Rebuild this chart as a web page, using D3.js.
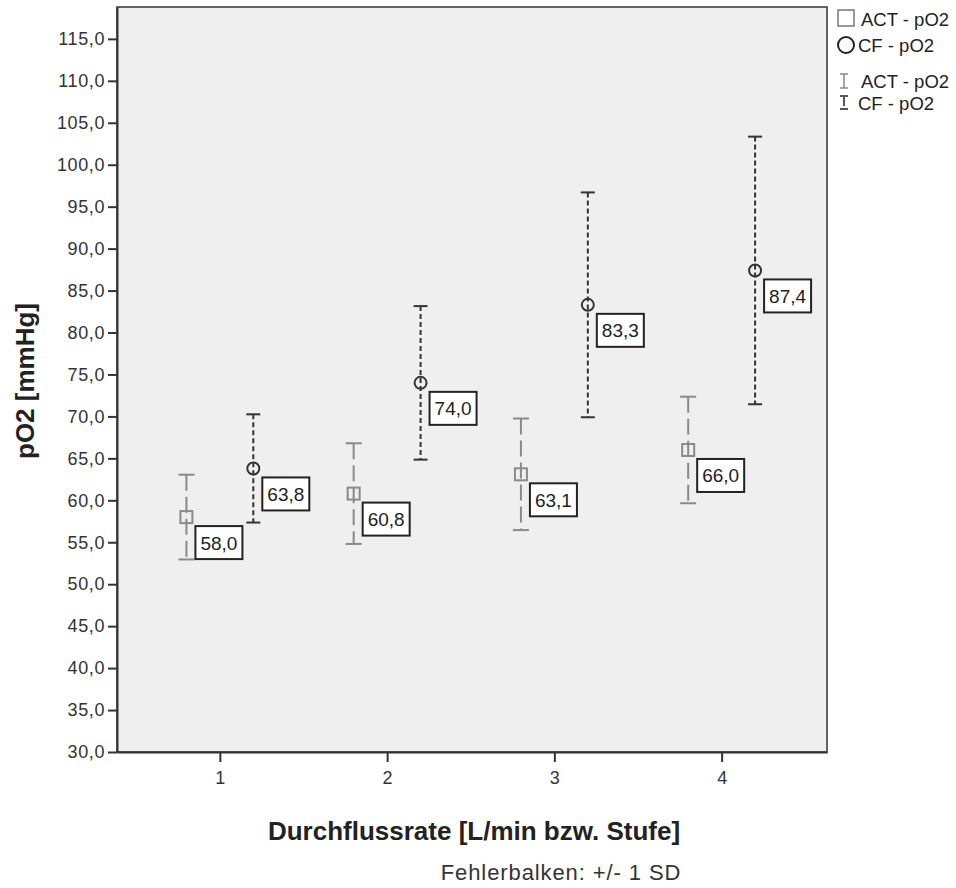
<!DOCTYPE html>
<html>
<head>
<meta charset="utf-8">
<script src="https://cdn.jsdelivr.net/npm/d3@7"></script>
<style>
  body { margin: 0; background: #fff; }
  text { font-family: "Liberation Sans", Arial, sans-serif; }
</style>
</head>
<body>
<script>
// data
const stufen = [1, 2, 3, 4];
const actMean = [58.0, 60.8, 63.1, 66.0];
const actSD = [5.05, 6.0, 6.65, 6.35];
const cfMean = [63.8, 74.0, 83.3, 87.4];
const cfSD = [6.45, 9.15, 13.4, 15.95];
const yTicks = d3.range(30, 116, 5);

let width = 956;
let height = 888;
let marginTop = 7;
let marginRight = 129;
let marginBottom = 136;
let marginLeft = 117;

const fmt = v => d3.format(".1f")(v).replace(".", ",");

const x = d3.scaleLinear()
  .domain([0.385, 4.63])
  .range([marginLeft, width - marginRight]);

const y = d3.scaleLinear()
  .domain([30, 118.8])
  .range([height - marginBottom, marginTop]);

const svg = d3.select("body")
  .append("svg")
  .attr("width", width)
  .attr("height", height)
  .attr("viewBox", [0, 0, width, height]);

// plot background + frame
svg.append("rect")
  .attr("x", marginLeft)
  .attr("y", marginTop)
  .attr("width", width - marginLeft - marginRight)
  .attr("height", height - marginTop - marginBottom)
  .attr("fill", "#efefef")
  .attr("stroke", "#333")
  .attr("stroke-width", 1.5);

// axes
svg.append("g")
  .attr("transform", `translate(${marginLeft},0)`)
  .call(d3.axisLeft(y).tickValues(yTicks).tickFormat(fmt).tickSize(9).tickSizeOuter(0))
  .call(g => g.select(".domain").attr("stroke", "#333").attr("stroke-width", 2))
  .call(g => g.selectAll(".tick line").attr("stroke", "#333").attr("stroke-width", 2))
  .call(g => g.selectAll(".tick text")
    .attr("font-size", 18)
    .attr("font-family", "Liberation Sans, Arial, sans-serif")
    .attr("letter-spacing", 0.6)
    .attr("fill", "#333")
    .attr("x", -12));

svg.append("g")
  .attr("transform", `translate(0,${height - marginBottom})`)
  .call(d3.axisBottom(x).tickValues(stufen).tickFormat(d3.format("d")).tickSize(10).tickSizeOuter(0))
  .call(g => g.select(".domain").attr("stroke", "#333").attr("stroke-width", 2))
  .call(g => g.selectAll(".tick line").attr("stroke", "#333").attr("stroke-width", 2))
  .call(g => g.selectAll(".tick text")
    .attr("font-size", 18)
    .attr("font-family", "Liberation Sans, Arial, sans-serif")
    .attr("fill", "#333")
    .attr("y", 19));

// axis titles
svg.append("text")
  .attr("transform", `translate(34,381) rotate(-90)`)
  .attr("text-anchor", "middle")
  .attr("font-size", 26)
  .attr("font-weight", "bold")
  .attr("fill", "#222")
  .text("pO2 [mmHg]");

svg.append("text")
  .attr("x", 474)
  .attr("y", 840)
  .attr("text-anchor", "middle")
  .attr("font-size", 26)
  .attr("font-weight", "bold")
  .attr("fill", "#222")
  .text("Durchflussrate [L/min bzw. Stufe]");

svg.append("text")
  .attr("x", 561)
  .attr("y", 880)
  .attr("text-anchor", "middle")
  .attr("font-size", 22)
  .attr("letter-spacing", 0.9)
  .attr("fill", "#333")
  .text("Fehlerbalken: +/- 1 SD");

const act = stufen.map((s, i) => ({ s, m: actMean[i], sd: actSD[i], dx: -0.2 }));
const cf = stufen.map((s, i) => ({ s, m: cfMean[i], sd: cfSD[i], dx: 0.2 }));

function drawBars(rows, color, dash, capW) {
  const g = svg.append("g");
  g.selectAll("line.bar")
    .data(rows)
    .join("line")
    .attr("x1", d => x(d.s + d.dx))
    .attr("x2", d => x(d.s + d.dx))
    .attr("y1", d => y(d.m + d.sd))
    .attr("y2", d => y(d.m - d.sd))
    .attr("stroke", color)
    .attr("stroke-width", 2)
    .attr("stroke-dasharray", dash);
  for (const side of [1, -1]) {
    g.selectAll(null)
      .data(rows)
      .join("line")
      .attr("x1", d => x(d.s + d.dx) - capW / 2)
      .attr("x2", d => x(d.s + d.dx) + capW / 2)
      .attr("y1", d => y(d.m + side * d.sd))
      .attr("y2", d => y(d.m + side * d.sd))
      .attr("stroke", color)
      .attr("stroke-width", 2);
  }
}

drawBars(act, "#8a8a8a", "16,6", 16);
drawBars(cf, "#333", "5,3", 14);

// markers
svg.append("g")
  .selectAll("rect")
  .data(act)
  .join("rect")
  .attr("x", d => x(d.s + d.dx) - 6)
  .attr("y", d => y(d.m) - 6)
  .attr("width", 12)
  .attr("height", 12)
  .attr("fill", "none")
  .attr("stroke", "#8a8a8a")
  .attr("stroke-width", 2);

svg.append("g")
  .selectAll("circle")
  .data(cf)
  .join("circle")
  .attr("cx", d => x(d.s + d.dx))
  .attr("cy", d => y(d.m))
  .attr("r", 6)
  .attr("fill", "none")
  .attr("stroke", "#333")
  .attr("stroke-width", 2);

// value labels
const lab = svg.append("g")
  .selectAll("g")
  .data(act.concat(cf))
  .join("g")
  .attr("transform", d => `translate(${x(d.s + d.dx) + 9},${y(d.m) + 9})`);

lab.append("rect")
  .attr("width", 47)
  .attr("height", 33)
  .attr("fill", "#fff")
  .attr("stroke", "#222")
  .attr("stroke-width", 2);

lab.append("text")
  .attr("x", 23.5)
  .attr("y", 23.5)
  .attr("text-anchor", "middle")
  .attr("font-size", 19)
  .attr("fill", "#222")
  .text(d => fmt(d.m));

// legend
const lx = 838;
const leg = svg.append("g").attr("font-size", 18.5).attr("fill", "#222");

leg.append("rect")
  .attr("x", lx).attr("y", 10).attr("width", 16).attr("height", 16)
  .attr("fill", "none").attr("stroke", "#777").attr("stroke-width", 1.5);
leg.append("text").attr("x", lx + 23).attr("y", 26).text("ACT - pO2");

leg.append("circle")
  .attr("cx", lx + 8).attr("cy", 45).attr("r", 8)
  .attr("fill", "none").attr("stroke", "#222").attr("stroke-width", 2);
leg.append("text").attr("x", lx + 20).attr("y", 52).text("CF - pO2");

leg.append("path")
  .attr("d", `M${lx + 2},74H${lx + 10}M${lx + 6},74V88M${lx + 2},88H${lx + 10}`)
  .attr("stroke", "#888").attr("stroke-width", 1.5).attr("fill", "none");
leg.append("text").attr("x", lx + 23).attr("y", 88).text("ACT - pO2");

leg.append("path")
  .attr("d", `M${lx + 2},96H${lx + 10}M${lx + 6},97V106M${lx + 2},109H${lx + 10}`)
  .attr("stroke", "#222").attr("stroke-width", 1.5).attr("fill", "none");
leg.append("text").attr("x", lx + 20).attr("y", 110).text("CF - pO2");
</script>
</body>
</html>
